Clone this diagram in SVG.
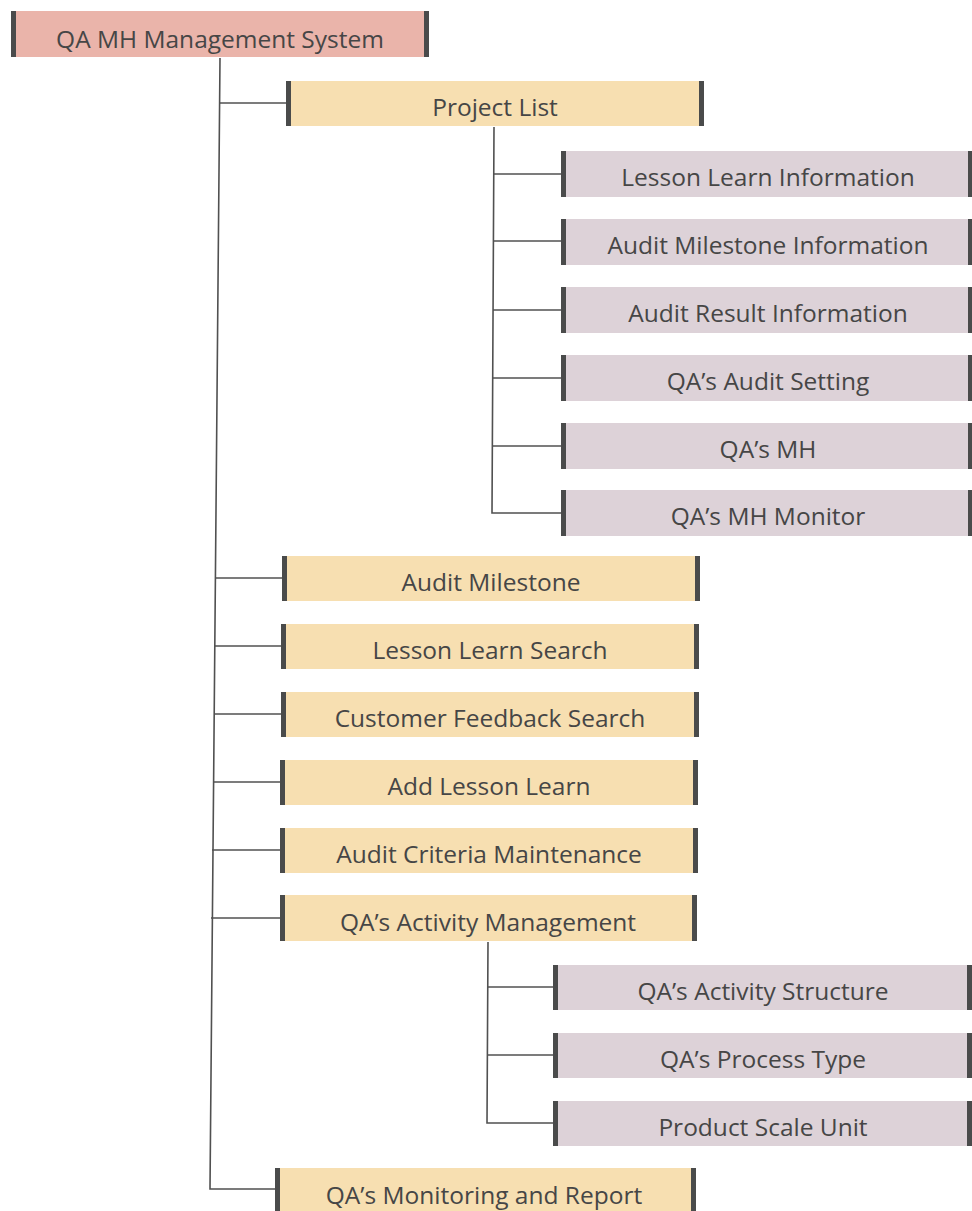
<svg xmlns="http://www.w3.org/2000/svg" width="972" height="1211" viewBox="0 0 972 1211">
<defs>
<style>
.root{fill:#eab4aa}
.main{fill:#f7dfb1}
.sub{fill:#ddd2d8}
.bar{fill:#4a4b4b}
.t{font-family:"Open Sans","Noto Sans","Liberation Sans",sans-serif;font-size:24.5px;fill:#464646;text-anchor:middle}
.c{stroke:#505050;stroke-width:1.6;fill:none}
</style>
</defs>
<rect width="972" height="1211" fill="#ffffff"/>
<g id="connectors">
<path class="c" d="M220,58 L210,1189 L276,1189"/>
<path class="c" d="M219,103 L287,103"/>
<path class="c" d="M215,578 L283,578"/>
<path class="c" d="M214,646 L282,646"/>
<path class="c" d="M214,714 L282,714"/>
<path class="c" d="M213,782 L281,782"/>
<path class="c" d="M212,850 L281,850"/>
<path class="c" d="M211,918 L281,918"/>
<path class="c" d="M494,127 L492,513 L562,513"/>
<path class="c" d="M494,174 L562,174"/>
<path class="c" d="M493,241 L562,241"/>
<path class="c" d="M493,310 L562,310"/>
<path class="c" d="M493,378 L562,378"/>
<path class="c" d="M492,446 L562,446"/>
<path class="c" d="M488,942 L487,1123 L554,1123"/>
<path class="c" d="M488,987 L554,987"/>
<path class="c" d="M487,1055 L554,1055"/>
</g>
<g id="n-root">
<rect class="root" x="11" y="11" width="418" height="46"/>
<rect class="bar" x="11" y="11" width="5" height="46"/>
<rect class="bar" x="424" y="11" width="5" height="46"/>
<text class="t" x="220" y="48">QA MH Management System</text>
</g>
<g id="n-project-list">
<rect class="main" x="286" y="81" width="418" height="45"/>
<rect class="bar" x="286" y="81" width="5" height="45"/>
<rect class="bar" x="699" y="81" width="5" height="45"/>
<text class="t" x="495" y="116">Project List</text>
</g>
<g id="n-lesson-learn-info">
<rect class="sub" x="561" y="151" width="411" height="46"/>
<rect class="bar" x="561" y="151" width="5" height="46"/>
<rect class="bar" x="968" y="151" width="4" height="46"/>
<text class="t" x="768" y="186">Lesson Learn Information</text>
</g>
<g id="n-audit-milestone-info">
<rect class="sub" x="561" y="219" width="411" height="46"/>
<rect class="bar" x="561" y="219" width="5" height="46"/>
<rect class="bar" x="968" y="219" width="4" height="46"/>
<text class="t" x="768" y="254">Audit Milestone Information</text>
</g>
<g id="n-audit-result-info">
<rect class="sub" x="561" y="287" width="411" height="46"/>
<rect class="bar" x="561" y="287" width="5" height="46"/>
<rect class="bar" x="968" y="287" width="4" height="46"/>
<text class="t" x="768" y="322">Audit Result Information</text>
</g>
<g id="n-qa-audit-setting">
<rect class="sub" x="561" y="355" width="411" height="46"/>
<rect class="bar" x="561" y="355" width="5" height="46"/>
<rect class="bar" x="968" y="355" width="4" height="46"/>
<text class="t" x="768" y="390">QA’s Audit Setting</text>
</g>
<g id="n-qa-mh">
<rect class="sub" x="561" y="423" width="411" height="46"/>
<rect class="bar" x="561" y="423" width="5" height="46"/>
<rect class="bar" x="968" y="423" width="4" height="46"/>
<text class="t" x="768" y="458">QA’s MH</text>
</g>
<g id="n-qa-mh-monitor">
<rect class="sub" x="561" y="490" width="411" height="46"/>
<rect class="bar" x="561" y="490" width="5" height="46"/>
<rect class="bar" x="968" y="490" width="4" height="46"/>
<text class="t" x="768" y="525">QA’s MH Monitor</text>
</g>
<g id="n-audit-milestone">
<rect class="main" x="282" y="556" width="418" height="45"/>
<rect class="bar" x="282" y="556" width="5" height="45"/>
<rect class="bar" x="695" y="556" width="5" height="45"/>
<text class="t" x="491" y="591">Audit Milestone</text>
</g>
<g id="n-lesson-learn-search">
<rect class="main" x="281" y="624" width="418" height="45"/>
<rect class="bar" x="281" y="624" width="5" height="45"/>
<rect class="bar" x="694" y="624" width="5" height="45"/>
<text class="t" x="490" y="659">Lesson Learn Search</text>
</g>
<g id="n-customer-feedback-search">
<rect class="main" x="281" y="692" width="418" height="45"/>
<rect class="bar" x="281" y="692" width="5" height="45"/>
<rect class="bar" x="694" y="692" width="5" height="45"/>
<text class="t" x="490" y="727">Customer Feedback Search</text>
</g>
<g id="n-add-lesson-learn">
<rect class="main" x="280" y="760" width="418" height="45"/>
<rect class="bar" x="280" y="760" width="5" height="45"/>
<rect class="bar" x="693" y="760" width="5" height="45"/>
<text class="t" x="489" y="795">Add Lesson Learn</text>
</g>
<g id="n-audit-criteria">
<rect class="main" x="280" y="828" width="418" height="45"/>
<rect class="bar" x="280" y="828" width="5" height="45"/>
<rect class="bar" x="693" y="828" width="5" height="45"/>
<text class="t" x="489" y="863">Audit Criteria Maintenance</text>
</g>
<g id="n-qa-activity-mgmt">
<rect class="main" x="280" y="895" width="417" height="46"/>
<rect class="bar" x="280" y="895" width="5" height="46"/>
<rect class="bar" x="692" y="895" width="5" height="46"/>
<text class="t" x="488" y="931">QA’s Activity Management</text>
</g>
<g id="n-qa-activity-structure">
<rect class="sub" x="553" y="965" width="419" height="45"/>
<rect class="bar" x="553" y="965" width="5" height="45"/>
<rect class="bar" x="967" y="965" width="5" height="45"/>
<text class="t" x="763" y="1000">QA’s Activity Structure</text>
</g>
<g id="n-qa-process-type">
<rect class="sub" x="553" y="1033" width="419" height="45"/>
<rect class="bar" x="553" y="1033" width="5" height="45"/>
<rect class="bar" x="967" y="1033" width="5" height="45"/>
<text class="t" x="763" y="1068">QA’s Process Type</text>
</g>
<g id="n-product-scale-unit">
<rect class="sub" x="553" y="1101" width="419" height="45"/>
<rect class="bar" x="553" y="1101" width="5" height="45"/>
<rect class="bar" x="967" y="1101" width="5" height="45"/>
<text class="t" x="763" y="1136">Product Scale Unit</text>
</g>
<g id="n-qa-monitoring-report">
<rect class="main" x="275" y="1168" width="421" height="46"/>
<rect class="bar" x="275" y="1168" width="5" height="46"/>
<rect class="bar" x="691" y="1168" width="5" height="46"/>
<text class="t" x="484" y="1204">QA’s Monitoring and Report</text>
</g>
</svg>
